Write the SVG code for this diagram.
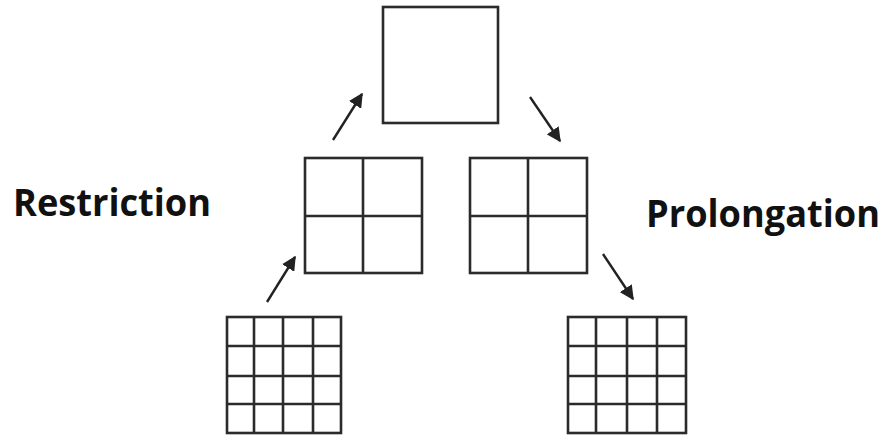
<svg xmlns="http://www.w3.org/2000/svg" width="888" height="436" viewBox="0 0 888 436">
  <style>
    .cell { fill: #ffffff; stroke: #2b2b2b; stroke-width: 2.6; }
    .grid { stroke: #2b2b2b; stroke-width: 2.6; fill: none; }
    .arrow { stroke: #222222; stroke-width: 2.4; fill: none; marker-end: url(#head); }
    .label { font-family: "Open Sans", "Liberation Sans", sans-serif; font-weight: bold; font-size: 37px; fill: #111111; }
  </style>
  <defs>
    <marker id="head" viewBox="0 0 10 10" refX="9" refY="5" markerWidth="6" markerHeight="6" markerUnits="strokeWidth" orient="auto">
      <path d="M0,0 L10,5 L0,10 z" fill="#222222"/>
    </marker>
  </defs>
  <rect width="888" height="436" fill="#ffffff"/>

  <!-- coarsest grid: single cell -->
  <g id="coarse">
    <rect class="cell" x="383" y="7" width="115" height="116"/>
  </g>

  <!-- restriction side, 2x2 -->
  <g id="mid-left">
    <rect class="cell" x="305" y="158" width="117" height="115"/>
    <path class="grid" d="M363,158 V273 M305,216 H422"/>
  </g>

  <!-- prolongation side, 2x2 -->
  <g id="mid-right">
    <rect class="cell" x="470" y="158" width="117" height="115"/>
    <path class="grid" d="M528,158 V273 M470,216 H587"/>
  </g>

  <!-- finest grid, 4x4 (left) -->
  <g id="fine-left">
    <rect class="cell" x="227" y="317" width="114" height="116"/>
    <path class="grid" d="M254,317 V433 M283,317 V433 M313,317 V433 M227,346 H341 M227,376 H341 M227,404 H341"/>
  </g>

  <!-- finest grid, 4x4 (right) -->
  <g id="fine-right">
    <rect class="cell" x="568" y="317" width="118" height="116"/>
    <path class="grid" d="M596,317 V433 M627,317 V433 M657,317 V433 M568,346 H686 M568,376 H686 M568,404 H686"/>
  </g>

  <g id="labels">
    <text class="label" x="13" y="216" textLength="198" lengthAdjust="spacingAndGlyphs">Restriction</text>
    <text class="label" x="646" y="227" textLength="234" lengthAdjust="spacingAndGlyphs">Prolongation</text>
  </g>

  <g id="connectors">
    <line class="arrow" x1="267" y1="302" x2="295" y2="257"/>
    <line class="arrow" x1="333" y1="140" x2="362" y2="94"/>
    <line class="arrow" x1="530" y1="97" x2="560" y2="141"/>
    <line class="arrow" x1="603" y1="254" x2="633" y2="299"/>
  </g>
</svg>
